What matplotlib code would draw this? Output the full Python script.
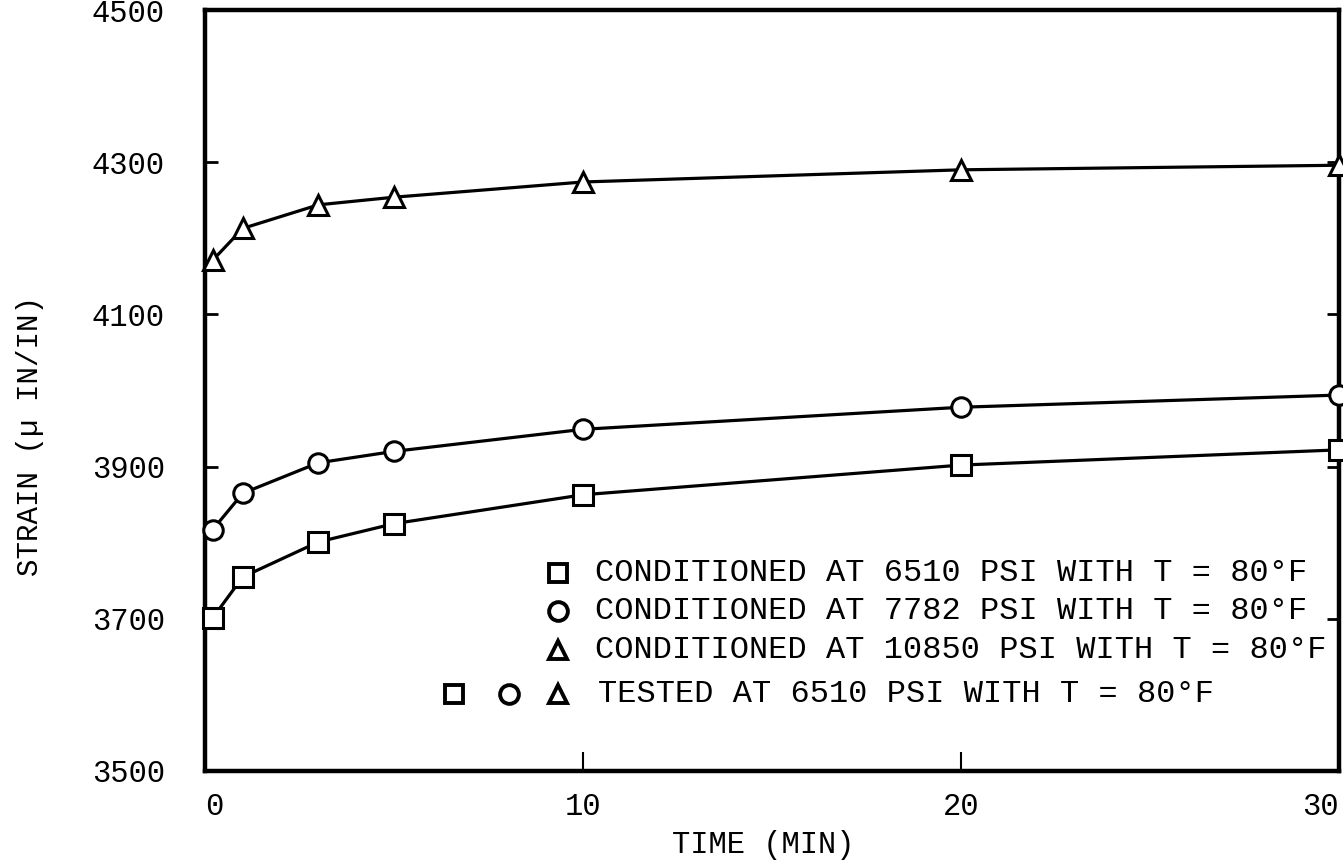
import matplotlib
matplotlib.use("Agg")
import matplotlib.pyplot as plt

plt.rcParams['font.family'] = ['Liberation Mono', 'DejaVu Sans']

# time (min)
time_min = [0.2, 1, 3, 5, 10, 20, 30]

# strain (micro in/in) for each conditioning stress
strain_6510 = [3701, 3755, 3801, 3825, 3863, 3902, 3922]
strain_7782 = [3817, 3865, 3905, 3920, 3949, 3978, 3994]
strain_10850 = [4171, 4213, 4244, 4254, 4274, 4290, 4296]

y_ticks = [3500, 3700, 3900, 4100, 4300, 4500]
x_ticks = [0, 10, 20, 30]

legend_labels = [
    'CONDITIONED AT 6510 PSI WITH T = 80\u00b0F',
    'CONDITIONED AT 7782 PSI WITH T = 80\u00b0F',
    'CONDITIONED AT 10850 PSI WITH T = 80\u00b0F',
]
tested_label = 'TESTED AT 6510 PSI WITH T = 80\u00b0F'

fig = plt.figure(figsize=(13.43, 8.64), dpi=100)
ax = fig.add_axes([205 / 1343, 93 / 864, 1134 / 1343, 761 / 864])

series = [(strain_6510, 's'), (strain_7782, 'o'), (strain_10850, '^')]
mk = dict(color='black', linewidth=2.3, markersize=14, markerfacecolor='white',
          markeredgecolor='black', markeredgewidth=2.2, clip_on=False, zorder=3)
for vals, m in series:
    ax.plot(time_min, vals, marker=m, **mk)

ax.set_xlim(0, 30)
ax.set_ylim(3500, 4500)
ax.set_yticks(y_ticks)
ax.set_xticks(x_ticks)
ax.set_xticklabels([str(t) for t in x_ticks])
ax.get_xticklabels()[0].set_horizontalalignment('left')
ax.get_xticklabels()[-1].set_horizontalalignment('right')

for s in ax.spines.values():
    s.set_linewidth(3.2)

ax.tick_params(axis='y', direction='in', length=9, width=2, labelsize=22, pad=29,
               right=True)
ax.tick_params(axis='x', direction='in', length=14, width=1.5, labelsize=22, pad=15)

ax.set_xlabel('TIME (MIN)', fontsize=22)
ax.xaxis.set_label_coords(0.492, -0.077)
ax.set_ylabel('STRAIN (\u00b5 IN/IN)', fontsize=21)
ax.yaxis.set_label_coords(-0.142, 0.44)

# legend drawn as a text block inside the axes
row_y = [0.260, 0.210, 0.159]
leg_mk = dict(linestyle='none', markersize=13.5, markerfacecolor='white',
              markeredgecolor='black', markeredgewidth=2.8, transform=ax.transAxes,
              clip_on=False)
for (vals, m), lab, yy in zip(series, legend_labels, row_y):
    ax.plot([0.311], [yy], marker=m, **leg_mk)
    ax.text(0.344, yy, lab, transform=ax.transAxes, fontsize=23, va='center')

tested_y = 0.101
for (vals, m), xx in zip(series, [0.220, 0.268, 0.311]):
    ax.plot([xx], [tested_y], marker=m, **leg_mk)
ax.text(0.347, tested_y, tested_label, transform=ax.transAxes, fontsize=23,
        va='center')

fig.savefig('out.png', dpi=100)
